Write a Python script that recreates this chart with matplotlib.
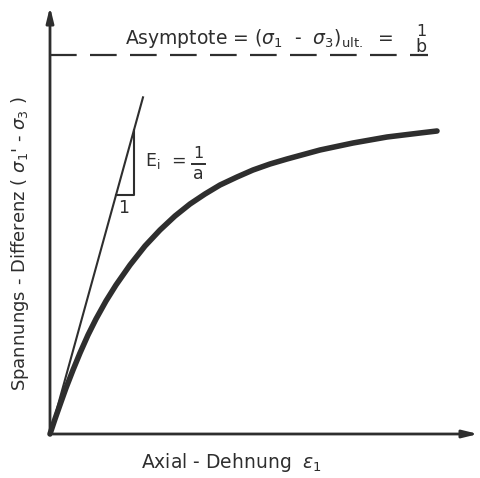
import numpy as np
import matplotlib.pyplot as plt

# gemessene Kurve (Axialdehnung / Spannungsdifferenz, relative Einheiten)
dehnung = [0.0, 0.05, 0.11, 0.16, 0.23, 0.30, 0.38, 0.46, 0.56, 0.66, 0.80,
           0.95, 1.10, 1.25, 1.40, 1.55, 1.70, 1.87, 2.03, 2.20, 2.37, 2.70,
           3.03, 3.37, 3.70, 3.87]
spannung = [0.0, 0.15, 0.32, 0.46, 0.64, 0.81, 0.99, 1.15, 1.33, 1.49, 1.69,
            1.88, 2.04, 2.18, 2.30, 2.40, 2.49, 2.57, 2.64, 2.70, 2.75, 2.84,
            2.91, 2.97, 3.01, 3.03]
asymptote = 3.79      # 1/b
E_i = 3.62            # 1/a, Anfangstangente
tangente_bis = 0.93   # Ende der Tangente (Dehnung)
dreieck = [0.66, 0.84]  # Steigungsdreieck (Dehnung)

ink = '#2e2e2e'
fig = plt.figure(figsize=(4.81, 4.78), dpi=100)
ax = fig.add_axes([0, 0, 1, 1])
ax.set_xlim(-0.50, 4.31)
ax.set_ylim(-0.44, 4.34)
ax.axis('off')

# Achsen mit Pfeilen
ax.annotate('', xy=(4.31, 0), xytext=(0, 0),
            arrowprops=dict(arrowstyle='-|>,head_length=0.9,head_width=0.22', lw=2, color=ink))
ax.annotate('', xy=(0, 4.30), xytext=(0, 0),
            arrowprops=dict(arrowstyle='-|>,head_length=0.9,head_width=0.22', lw=2, color=ink))

# Asymptote
ax.plot([0, 3.78], [asymptote, asymptote], color=ink, lw=1.6, ls=(0, (12, 6)))

# Anfangstangente
ax.plot([0, tangente_bis], [0, E_i * tangente_bis], color=ink, lw=1.5)
ax.plot([dreieck[0], dreieck[1], dreieck[1]],
        [E_i * dreieck[0], E_i * dreieck[0], E_i * dreieck[1]], color=ink, lw=1.5)

# Hyperbel
ax.plot(dehnung, spannung, color=ink, lw=4, solid_capstyle='round', solid_joinstyle='round')

fs = 12.5
ax.text(0.75, 3.96, r'Asymptote = ($\sigma_1$  -  $\sigma_3$)$_{\mathrm{ult.}}$  =',
        fontsize=13.5, color=ink, va='center', ha='left')
ax.text(3.71, 4.03, '1', fontsize=fs - 1, color=ink, ha='center', va='center')
ax.text(3.71, 3.87, 'b', fontsize=fs, color=ink, ha='center', va='center')

ax.text(0.95, 2.73, r'E$_\mathrm{i}$  =', fontsize=fs, color=ink, va='center')
ax.text(1.48, 2.81, '1', fontsize=fs - 1, color=ink, ha='center', va='center')
ax.plot([1.42, 1.55], [2.70, 2.70], color=ink, lw=1.4)
ax.text(1.48, 2.60, 'a', fontsize=fs, color=ink, ha='center', va='center')
ax.text(0.74, 2.26, '1', fontsize=fs, color=ink, ha='center', va='center')

ax.text(1.82, -0.29, r'Axial - Dehnung  $\epsilon_1$', fontsize=13.5, color=ink,
        ha='center', va='center')
ax.text(-0.30, 1.90, r"Spannungs - Differenz ( $\sigma_1$' - $\sigma_3$ )", fontsize=13,
        color=ink, ha='center', va='center', rotation=90)

plt.savefig('out.png', dpi=100)
